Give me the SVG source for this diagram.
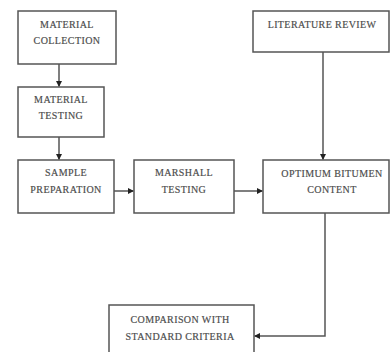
<svg xmlns="http://www.w3.org/2000/svg" width="391" height="352" viewBox="0 0 391 352">
<defs>
<marker id="ah" markerWidth="6" markerHeight="6" refX="5" refY="3" orient="auto" markerUnits="userSpaceOnUse">
<path d="M0,0 L6,3 L0,6 Z" fill="#222"/>
</marker>
<style>
.box{fill:#fff;stroke:#555;stroke-width:1.5}
.t{font-family:"Liberation Serif","Times New Roman",serif;font-size:10px;letter-spacing:0.4px;fill:#444;text-anchor:middle;stroke:#666;stroke-width:0.2}
.c{fill:none;stroke:#555;stroke-width:1.5;marker-end:url(#ah)}
</style>
</defs>
<rect width="391" height="352" fill="#fff"/>
<g id="material-collection">
<rect class="box" x="18" y="11" width="98" height="53"/>
<text class="t" x="67" y="28">MATERIAL</text>
<text class="t" x="67" y="44">COLLECTION</text>
</g>
<g id="material-testing">
<rect class="box" x="18" y="87" width="86" height="50"/>
<text class="t" x="61" y="103">MATERIAL</text>
<text class="t" x="61" y="119">TESTING</text>
</g>
<g id="sample-preparation">
<rect class="box" x="18" y="160" width="96" height="53"/>
<text class="t" x="66" y="176">SAMPLE</text>
<text class="t" x="66" y="193">PREPARATION</text>
</g>
<g id="marshall-testing">
<rect class="box" x="134" y="160" width="100" height="53"/>
<text class="t" x="184" y="176">MARSHALL</text>
<text class="t" x="184" y="193">TESTING</text>
</g>
<g id="optimum-bitumen">
<rect class="box" x="263" y="160" width="126" height="53"/>
<text class="t" x="332" y="177">OPTIMUM BITUMEN</text>
<text class="t" x="332" y="193">CONTENT</text>
</g>
<g id="literature-review">
<rect class="box" x="253" y="11" width="136" height="41"/>
<text class="t" x="322" y="28">LITERATURE REVIEW</text>
</g>
<g id="comparison">
<rect class="box" x="109" y="305" width="145" height="55"/>
<text class="t" x="180" y="323">COMPARISON WITH</text>
<text class="t" x="180" y="340">STANDARD CRITERIA</text>
</g>
<g id="connectors">
<path class="c" d="M59,64 V86"/>
<path class="c" d="M59,137 V159"/>
<path class="c" d="M114,191 H133"/>
<path class="c" d="M234,191 H262"/>
<path class="c" d="M323,52 V159"/>
<path class="c" d="M325,213 V336 H255"/>
</g>
</svg>
